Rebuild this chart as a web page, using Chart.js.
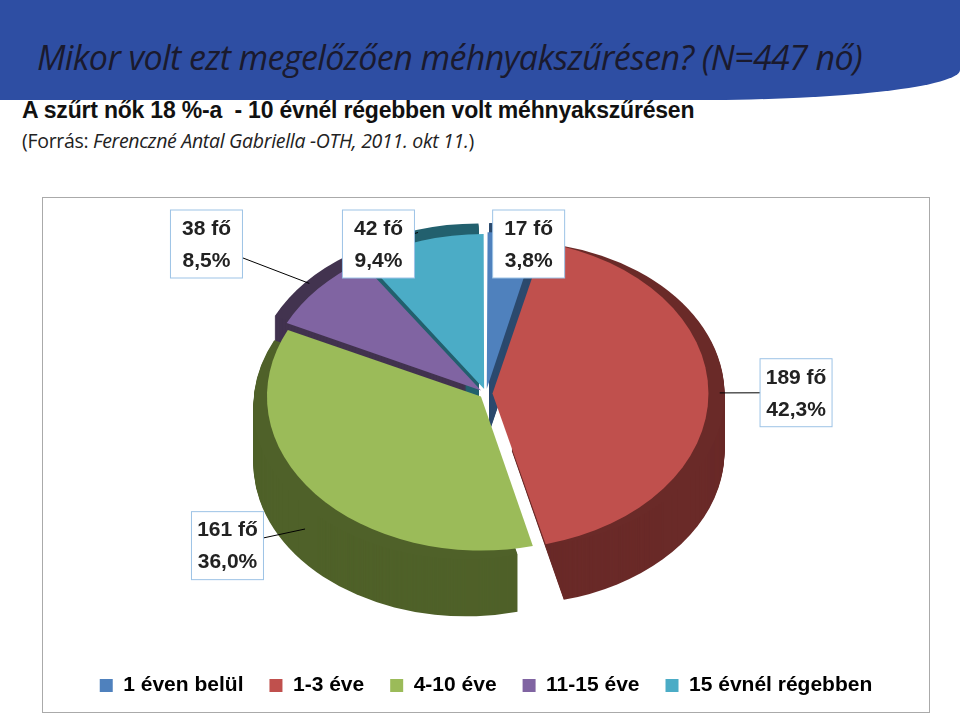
<!DOCTYPE html>
<html><head><meta charset="utf-8">
<script src="https://cdn.jsdelivr.net/npm/chart.js@4/dist/chart.umd.min.js"></script>
<style>
body{margin:0;width:960px;height:714px;background:#fff;position:relative;overflow:hidden;font-family:"Open Sans",sans-serif}
#banner{position:absolute;left:-40px;top:-20px;width:1000px;height:120px;background:#2E4EA3;border-bottom-right-radius:260px 30px;}
#title{position:absolute;left:37px;top:34px;font-style:italic;font-size:34px;color:#1a1a2e;letter-spacing:-0.6px}
#sub{position:absolute;left:22px;top:97px;font-family:"Liberation Sans",Arial;font-weight:bold;font-size:23px;color:#111;letter-spacing:-0.2px}
#src{position:absolute;left:22px;top:127px;font-size:19.5px;color:#222;letter-spacing:-0.3px}
#box{position:absolute;left:42px;top:197px;width:886px;height:514px;border:1px solid #aaa}
</style></head><body>
<div id="banner"></div>
<div id="title">Mikor volt ezt megelőzően méhnyakszűrésen? (N=447 nő)</div>
<div id="sub">A szűrt nők 18 %-a&nbsp; - 10 évnél régebben volt méhnyakszűrésen</div>
<div id="src">(Forrás: <i>Ferenczné Antal Gabriella -OTH, 2011. okt 11.</i>)</div>
<div id="box"><canvas id="c" width="886" height="514"></canvas></div>
<script>
const categories=["1 éven belül","1-3 éve","4-10 éve","11-15 éve","15 évnél régebben"];
const counts=[17,189,161,38,42];
const percentLabels=["3,8%","42,3%","36,0%","8,5%","9,4%"];
const colors=["#4F81BD","#C0504D","#9BBB59","#8064A2","#4BACC6"];
const darkColors=["#2C4A6E","#6A2A28","#4F6129","#42334F","#22606E"];
const labelDist=[1.5,1.3,1.4,1.55,1.55];
const SY=0.72, DEPTH=58;
let center=null;
const pie3d={id:'pie3d',
 beforeDatasetsDraw(chart){
  const ctx=chart.ctx,meta=chart.getDatasetMeta(0),a=meta.data[0];
  const cx=a.x,cy=a.y;center={cx,cy,shift:-30};
  ctx.save();
  ctx.translate(cx,cy+center.shift);ctx.scale(1,SY);ctx.translate(-cx,-cy);
  const order=meta.data.map((e,i)=>i).sort((i,j)=>{
    const m=e=>Math.sin((e.startAngle+e.endAngle)/2);
    return m(meta.data[i])-m(meta.data[j]);});
  order.forEach(i=>{const e=meta.data[i];const mid=(e.startAngle+e.endAngle)/2,off=e.options.offset;
    const ox=Math.cos(mid)*off,oy=Math.sin(mid)*off;
    ctx.fillStyle=darkColors[i];
    for(let d=DEPTH;d>=1;d-=1){ctx.beginPath();ctx.moveTo(e.x+ox,e.y+oy+d/SY);
      ctx.arc(e.x+ox,e.y+oy+d/SY,e.outerRadius,e.startAngle,e.endAngle);ctx.closePath();ctx.fill();}
  });
 },
 afterDatasetsDraw(chart){
  const ctx=chart.ctx;ctx.restore();
  const meta=chart.getDatasetMeta(0);
  ctx.save();ctx.font='bold 21px "Liberation Sans",Arial';ctx.textAlign='center';ctx.textBaseline='middle';
  meta.data.forEach((e,i)=>{const mid=(e.startAngle+e.endAngle)/2,R=e.outerRadius+e.options.offset;
    const px=e.x+Math.cos(mid)*R*0.98,py=e.y+center.shift+Math.sin(mid)*R*0.98*SY+(Math.sin(mid)>0?DEPTH*0.5:0);
    let lx=e.x+Math.cos(mid)*R*labelDist[i],ly=e.y+center.shift+Math.sin(mid)*R*labelDist[i]*SY;
    ly=Math.max(46,Math.min(chart.height-140,ly));
    ctx.strokeStyle='#000';ctx.lineWidth=1;ctx.beginPath();ctx.moveTo(px,py);ctx.lineTo(lx,ly);ctx.stroke();
    const w=72,h=68;ctx.fillStyle='#fff';ctx.fillRect(lx-w/2,ly-h/2,w,h);
    ctx.strokeStyle='#9DC3E6';ctx.strokeRect(lx-w/2,ly-h/2,w,h);
    ctx.fillStyle='#222';ctx.fillText(counts[i]+' fő',lx,ly-15);ctx.fillText(percentLabels[i],lx,ly+17);
  });ctx.restore();
 }};
new Chart(document.getElementById('c'),{type:'pie',
 data:{labels:categories,datasets:[{data:counts,backgroundColor:colors,borderWidth:0,offset:26}]},
 options:{responsive:false,animation:false,rotation:0,
  layout:{padding:{top:0,bottom:6}},
  plugins:{tooltip:{enabled:false},
   legend:{position:'bottom',labels:{boxWidth:13,boxHeight:13,padding:26,color:'#000',font:{family:'"Liberation Sans",Arial',size:21,weight:'bold'}}}}},
 plugins:[pie3d]});
</script></body></html>
